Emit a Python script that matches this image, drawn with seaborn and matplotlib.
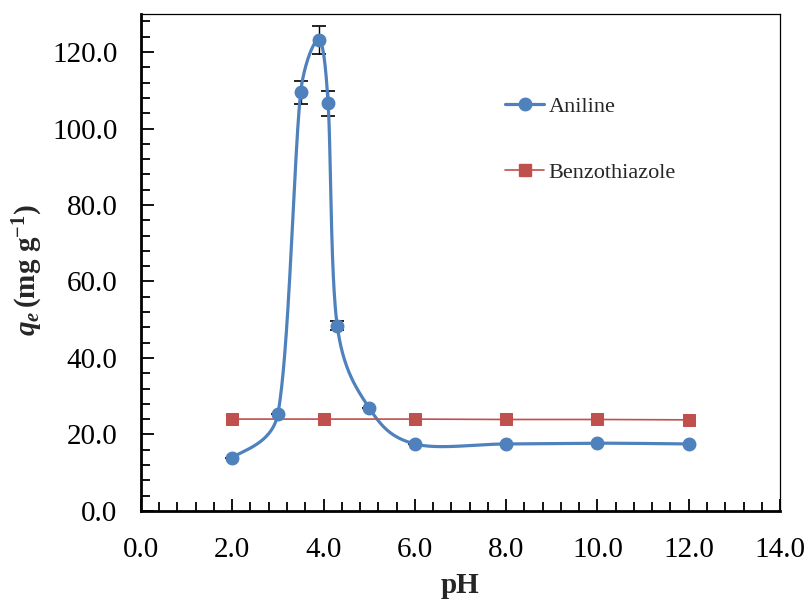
import numpy as np
import matplotlib
matplotlib.use("Agg")
import matplotlib.pyplot as plt
import seaborn as sns
from matplotlib.ticker import MultipleLocator, FormatStrFormatter

# ---- data ----
ph_aniline = [2.0, 3.0, 3.5, 3.9, 4.1, 4.3, 5.0, 6.0, 8.0, 10.0, 12.0]
qe_aniline = [13.8, 25.4, 109.5, 123.2, 106.6, 48.4, 26.9, 17.5, 17.5, 17.7, 17.5]
err_aniline = [0.0, 0.0, 3.0, 3.6, 3.2, 1.2, 0.0, 0.0, 0.0, 0.0, 0.0]
ph_benzo = [2.0, 4.0, 6.0, 8.0, 10.0, 12.0]
qe_benzo = [24.0, 24.0, 24.0, 23.9, 23.9, 23.8]
x_ticks = [0, 2, 4, 6, 8, 10, 12, 14]
y_ticks = [0, 20, 40, 60, 80, 100, 120]

sns.set_style("white")
plt.rcParams['font.family'] = ['Liberation Serif', 'DejaVu Serif']
plt.rcParams['mathtext.fontset'] = 'custom'
plt.rcParams['mathtext.rm'] = 'Liberation Serif:bold'
plt.rcParams['mathtext.it'] = 'Liberation Serif:italic:bold'
plt.rcParams['mathtext.bf'] = 'Liberation Serif:bold'

fig = plt.figure(figsize=(8.10, 6.01), dpi=100)
ax = fig.add_axes([0.174, 0.150, 0.789, 0.827])

blue = '#4F81BD'
red = '#C0504D'

ax.set_xlim(0, 14)
ax.set_ylim(0, 130)


def smooth_curve(xs, ys, n=60):
    # Excel-style smoothed line (Bezier segments, tension 1/6 with arm length
    # capped at half the segment chord), computed in display space
    P = ax.transData.transform(np.column_stack([xs, ys]).astype(float))
    m = len(P)
    out = []
    for i in range(m - 1):
        p0 = P[i - 1] if i > 0 else P[i]
        p1 = P[i]
        p2 = P[i + 1]
        p3 = P[i + 2] if i + 2 < m else P[i + 1]
        d02 = np.linalg.norm(p2 - p0)
        d12 = np.linalg.norm(p2 - p1)
        d13 = np.linalg.norm(p3 - p1)
        f0 = 1 / 6.0
        f3 = 1 / 6.0
        if d02 / 6.0 >= d12 / 2.0 and d02 > 0:
            f0 = d12 / d02 / 2.0
        if d13 / 6.0 >= d12 / 2.0 and d13 > 0:
            f3 = d12 / d13 / 2.0
        b1 = p1 + (p2 - p0) * f0
        b2 = p2 - (p3 - p1) * f3
        t = np.linspace(0, 1, n)[:, None]
        seg = ((1 - t) ** 3) * p1 + 3 * ((1 - t) ** 2) * t * b1 + 3 * (1 - t) * t ** 2 * b2 + t ** 3 * p2
        out.append(seg if i == 0 else seg[1:])
    c = ax.transData.inverted().transform(np.vstack(out))
    return c[:, 0], c[:, 1]


cx, cy = smooth_curve(ph_aniline, qe_aniline)
sns.lineplot(x=cx, y=cy, ax=ax, color=blue, lw=2.3, sort=False, estimator=None, zorder=3)

# error bars
ax.errorbar(ph_aniline, qe_aniline, yerr=err_aniline, fmt='none', ecolor='black',
            elinewidth=1.0, capsize=5, capthick=1.2, zorder=2)

# benzothiazole
sns.lineplot(x=ph_benzo, y=qe_benzo, ax=ax, color=red, lw=1.2, marker='s',
             markersize=9, markeredgecolor=red, zorder=3, estimator=None)
ax.plot(ph_aniline, qe_aniline, linestyle='none', marker='o', markersize=9,
        color=blue, markeredgecolor=blue, zorder=4)

# legend proxies
h1, = ax.plot([], [], color=blue, lw=2.3, marker='o', markersize=9)
h2, = ax.plot([], [], color=red, lw=1.2, marker='s', markersize=8)
leg = ax.legend([h1, h2], ['Aniline', 'Benzothiazole'], loc='upper left',
                bbox_to_anchor=(0.539, 0.875), frameon=False, fontsize=16,
                labelspacing=2.05, handlelength=1.75, handletextpad=0.2)

ax.set_xticks(x_ticks)
ax.set_yticks(y_ticks)
ax.xaxis.set_minor_locator(MultipleLocator(0.4))
ax.yaxis.set_minor_locator(MultipleLocator(4))
ax.xaxis.set_major_formatter(FormatStrFormatter('%.1f'))
ax.yaxis.set_major_formatter(FormatStrFormatter('%.1f'))

ax.tick_params(which='both', direction='in', bottom=True, left=True, top=False, right=False,
               colors='black', labelsize=21, width=1.3)
ax.tick_params(which='major', length=9)
ax.tick_params(axis='x', which='major', pad=19)
ax.tick_params(axis='y', which='major', pad=17)
ax.tick_params(which='minor', length=6.5)

for s in ['left', 'bottom']:
    ax.spines[s].set_linewidth(2.0)
    ax.spines[s].set_color('black')
for s in ['top', 'right']:
    ax.spines[s].set_linewidth(0.9)
    ax.spines[s].set_color('black')

ax.set_xlabel('pH', fontsize=21, fontweight='bold', labelpad=6)
ax.set_ylabel(r'$q_e\,\mathrm{(mg\ g^{-1})}$', fontsize=21)
ax.yaxis.set_label_coords(-0.150, 0.485)

fig.savefig('out.png', dpi=100)
